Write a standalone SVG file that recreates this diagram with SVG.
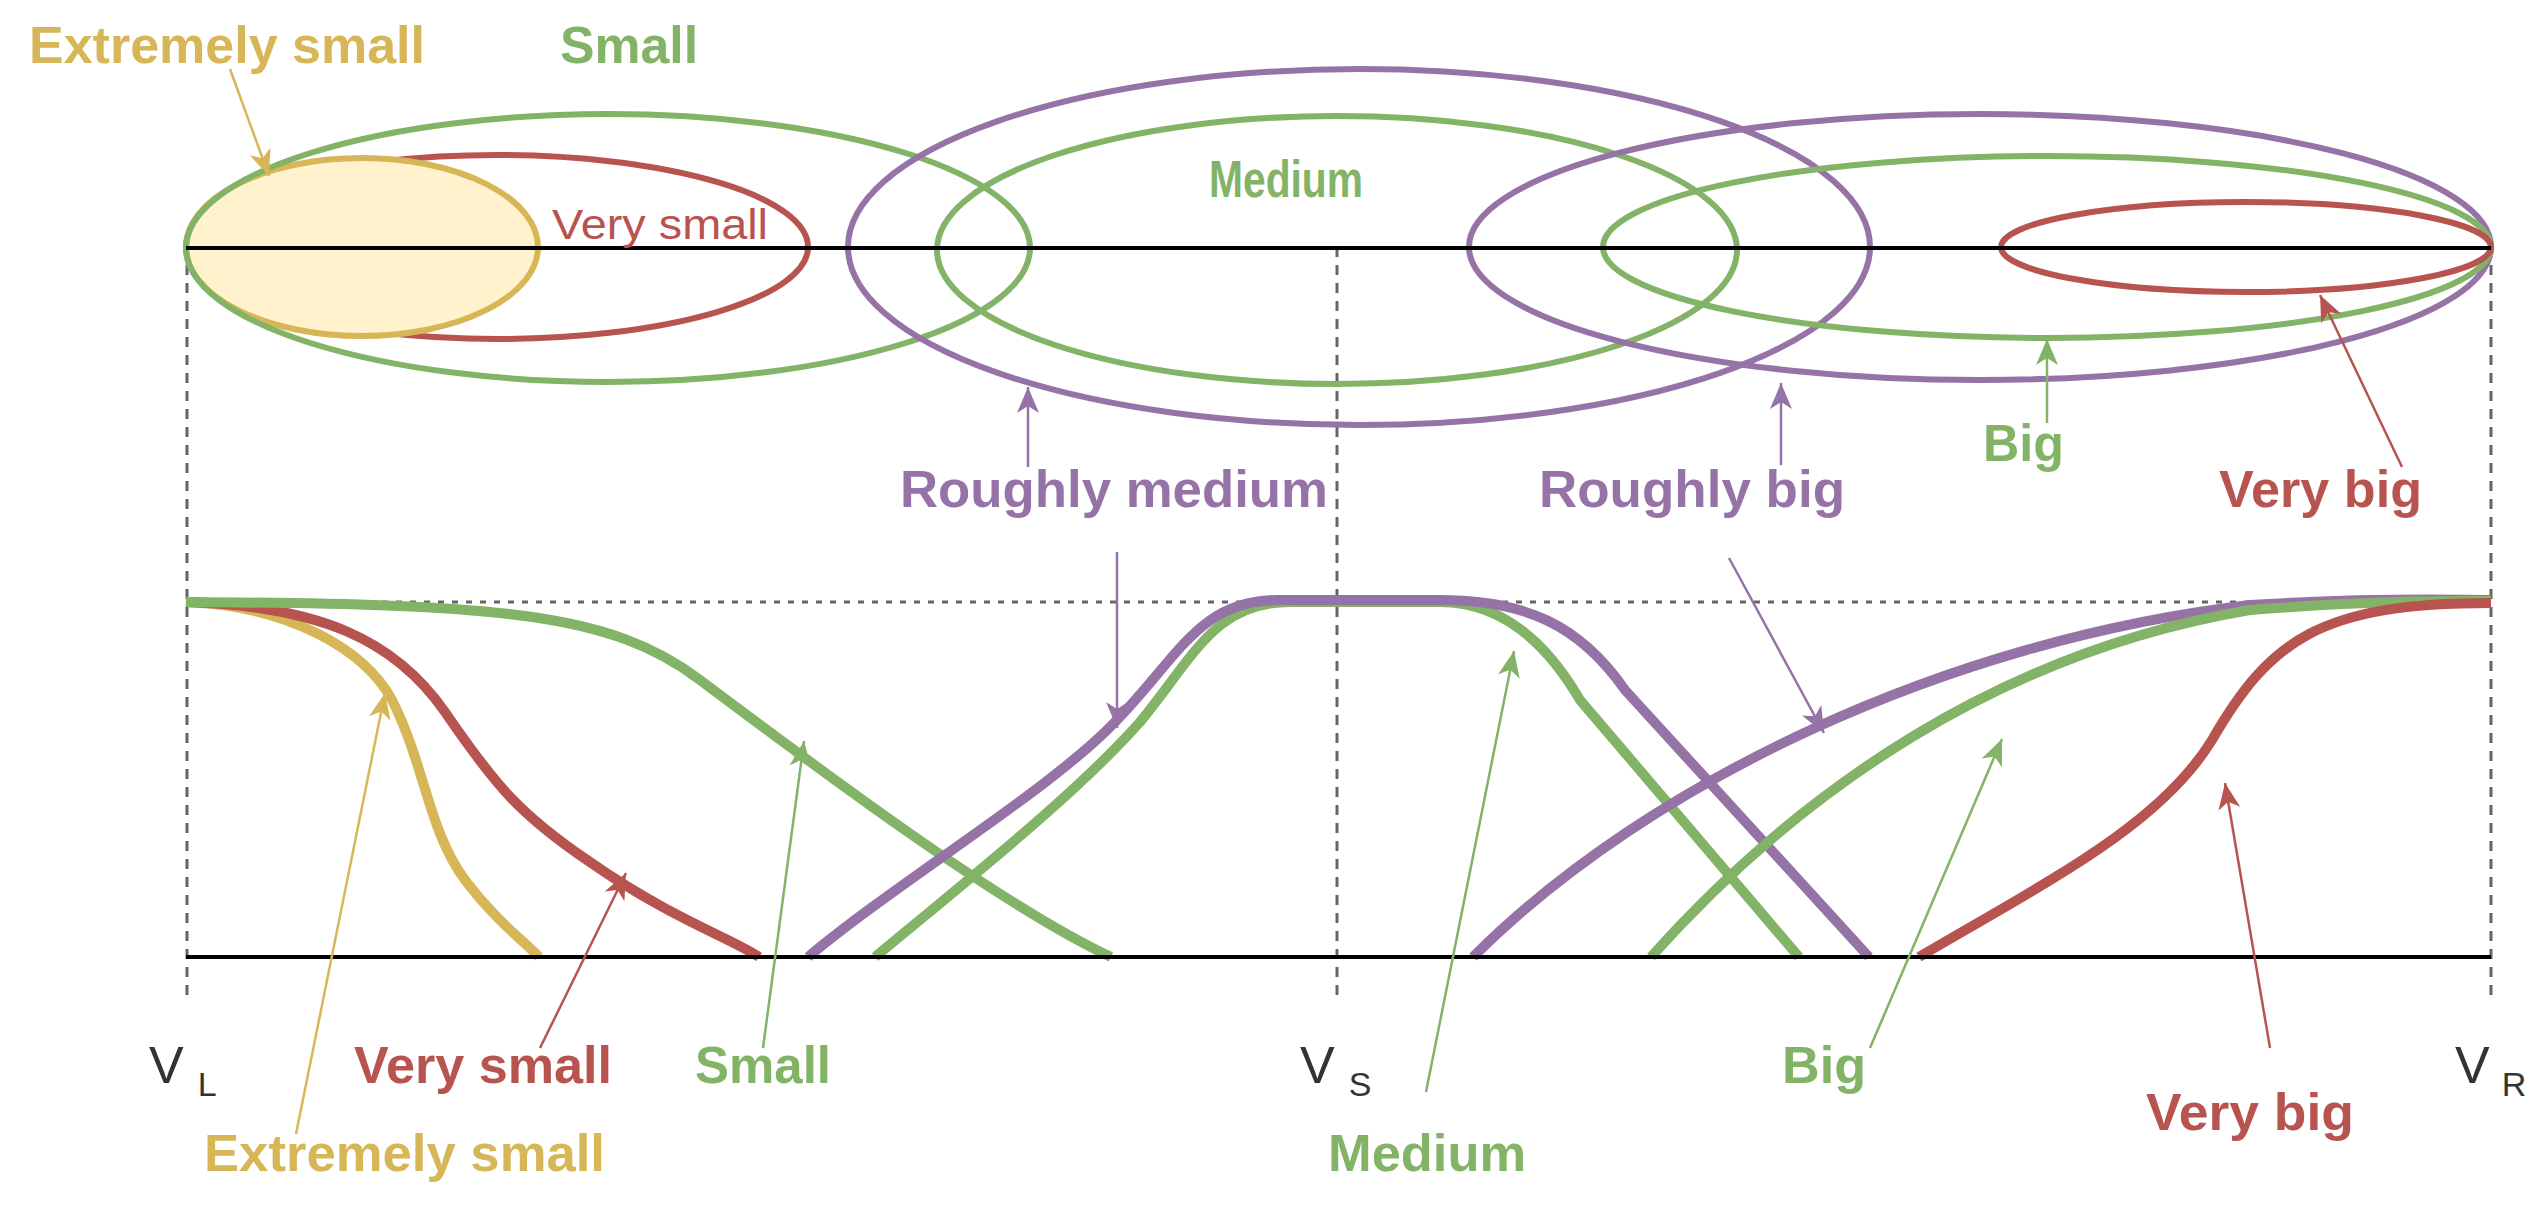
<svg xmlns="http://www.w3.org/2000/svg" width="2545" height="1208" viewBox="0 0 2545 1208">
<style>
text{font-family:"Liberation Sans Narrow","Liberation Sans",Arial,sans-serif;font-weight:bold;font-size:52px}
.y{fill:#d6b656}.r{fill:#b85450}.g{fill:#82b366}.p{fill:#9673a6}
.v{fill:#333;font-weight:normal}
.e{fill:none;stroke-width:6}
.c{fill:none;stroke-width:10;stroke-linecap:butt}
.a{fill:none;stroke-width:2.5}
.sy{stroke:#d6b656}.sr{stroke:#b85450}.sg{stroke:#82b366}.sp{stroke:#9673a6}
.d{stroke:#666;stroke-width:3;stroke-dasharray:10 8;fill:none}
</style>
<defs>
<marker id="my" markerWidth="40" markerHeight="40" refX="0" refY="0" markerUnits="userSpaceOnUse" orient="auto" overflow="visible"><path d="M0,0 L-26,-11 L-19,0 L-26,11 Z" fill="#d6b656"/></marker>
<marker id="mr" markerWidth="40" markerHeight="40" refX="0" refY="0" markerUnits="userSpaceOnUse" orient="auto" overflow="visible"><path d="M0,0 L-26,-11 L-19,0 L-26,11 Z" fill="#b85450"/></marker>
<marker id="mg" markerWidth="40" markerHeight="40" refX="0" refY="0" markerUnits="userSpaceOnUse" orient="auto" overflow="visible"><path d="M0,0 L-26,-11 L-19,0 L-26,11 Z" fill="#82b366"/></marker>
<marker id="mp" markerWidth="40" markerHeight="40" refX="0" refY="0" markerUnits="userSpaceOnUse" orient="auto" overflow="visible"><path d="M0,0 L-26,-11 L-19,0 L-26,11 Z" fill="#9673a6"/></marker>
</defs>
<rect width="2545" height="1208" fill="#fff"/>
<g id="guides">
<line class="d" x1="187" y1="247" x2="187" y2="1003"/>
<line class="d" x1="1337" y1="247" x2="1337" y2="1003"/>
<line class="d" x1="2491" y1="247" x2="2491" y2="1003"/>
<line x1="186" y1="602" x2="2491" y2="602" stroke="#666" stroke-width="3" stroke-dasharray="6 8"/>
</g>
<g id="top-sets">
<ellipse id="very-small" class="e sr" cx="497" cy="247" rx="311" ry="92"/>
<ellipse id="ext-small" cx="362" cy="247" rx="176" ry="89" fill="#fff2cc" stroke="#d6b656" stroke-width="6"/>
<ellipse id="small" class="e sg" cx="608" cy="248" rx="422" ry="134"/>
<ellipse id="roughly-medium" class="e sp" cx="1359" cy="247" rx="511" ry="178"/>
<ellipse id="medium" class="e sg" cx="1337" cy="250" rx="400" ry="134"/>
<ellipse id="roughly-big" class="e sp" cx="1980" cy="247" rx="511" ry="133"/>
<ellipse id="big" class="e sg" cx="2047" cy="247" rx="444" ry="91"/>
<ellipse id="very-big" class="e sr" cx="2246" cy="247" rx="245" ry="45"/>
<line x1="186" y1="248" x2="2491" y2="248" stroke="#000" stroke-width="4"/>
</g>
<g id="membership-curves">
<path class="c sy" d="M186,602 C290,606 365,650 392,700 C425,765 428,830 465,880 C495,920 525,942 539,957"/>
<path class="c sr" d="M186,602 C320,606 395,640 445,712 C495,785 520,815 590,862 C670,918 735,940 759,957"/>
<path class="c sg" d="M186,602 C500,604 610,612 700,680 C820,770 1000,905 1111,957"/>
<path class="c sg" d="M875,957 C980,870 1080,790 1140,722 C1195,655 1215,602 1290,602 L1440,602 C1500,602 1545,640 1580,700 L1799,957"/>
<path class="c sp" d="M808,957 C900,880 1050,790 1115,722 C1180,655 1200,600 1278,600 L1440,600 C1525,600 1580,625 1625,690 L1869,957"/>
<path class="c sp" d="M1473,957 C1650,780 1950,640 2250,605 C2380,597 2450,600 2491,600"/>
<path class="c sg" d="M1651,957 C1800,790 2000,652 2250,610 C2380,600 2450,601 2491,601"/>
<path class="c sr" d="M1919,957 C2050,880 2160,825 2212,740 C2270,640 2320,603 2491,603"/>
<line x1="186" y1="957" x2="2491" y2="957" stroke="#000" stroke-width="4"/>
</g>
<g id="connectors">
<line class="a sy" x1="230" y1="69" x2="269" y2="176" marker-end="url(#my)"/>
<line class="a sp" x1="1028" y1="467" x2="1028" y2="387" marker-end="url(#mp)"/>
<line class="a sp" x1="1781" y1="465" x2="1781" y2="383" marker-end="url(#mp)"/>
<line class="a sg" x1="2047" y1="423" x2="2047" y2="339" marker-end="url(#mg)"/>
<line class="a sr" x1="2402" y1="467" x2="2320" y2="295" marker-end="url(#mr)"/>
<line class="a sy" x1="296" y1="1134" x2="385" y2="693" marker-end="url(#my)"/>
<line class="a sr" x1="540" y1="1048" x2="626" y2="873" marker-end="url(#mr)"/>
<line class="a sg" x1="763" y1="1048" x2="804" y2="741" marker-end="url(#mg)"/>
<line class="a sp" x1="1117" y1="552" x2="1117" y2="728" marker-end="url(#mp)"/>
<line class="a sg" x1="1426" y1="1092" x2="1514" y2="651" marker-end="url(#mg)"/>
<line class="a sp" x1="1729" y1="558" x2="1824" y2="733" marker-end="url(#mp)"/>
<line class="a sg" x1="1870" y1="1048" x2="2002" y2="739" marker-end="url(#mg)"/>
<line class="a sr" x1="2270" y1="1048" x2="2225" y2="783" marker-end="url(#mr)"/>
</g>
<g id="labels">
<text class="y" x="29" y="63" textLength="396" lengthAdjust="spacingAndGlyphs">Extremely small</text>
<text class="g" x="560" y="63" textLength="138" lengthAdjust="spacingAndGlyphs">Small</text>
<text class="r" x="552" y="239" style="font-weight:normal;font-size:42px" textLength="216" lengthAdjust="spacingAndGlyphs">Very small</text>
<text class="g" x="1209" y="197" textLength="154" lengthAdjust="spacingAndGlyphs">Medium</text>
<text class="p" x="900" y="507" textLength="428" lengthAdjust="spacingAndGlyphs">Roughly medium</text>
<text class="p" x="1539" y="507" textLength="306" lengthAdjust="spacingAndGlyphs">Roughly big</text>
<text class="g" x="1983" y="461" textLength="81" lengthAdjust="spacingAndGlyphs">Big</text>
<text class="r" x="2219" y="507" textLength="203" lengthAdjust="spacingAndGlyphs">Very big</text>
<text class="v" x="149" y="1083">V<tspan font-size="34" dx="14" dy="13">L</tspan></text>
<text class="v" x="1300" y="1083">V<tspan font-size="34" dx="14" dy="13">S</tspan></text>
<text class="v" x="2455" y="1083">V<tspan font-size="34" dx="12" dy="13">R</tspan></text>
<text class="r" x="354" y="1083" textLength="258" lengthAdjust="spacingAndGlyphs">Very small</text>
<text class="g" x="695" y="1083" textLength="136" lengthAdjust="spacingAndGlyphs">Small</text>
<text class="y" x="204" y="1171" textLength="401" lengthAdjust="spacingAndGlyphs">Extremely small</text>
<text class="g" x="1328" y="1171" textLength="198" lengthAdjust="spacingAndGlyphs">Medium</text>
<text class="g" x="1782" y="1083" textLength="84" lengthAdjust="spacingAndGlyphs">Big</text>
<text class="r" x="2146" y="1130" textLength="208" lengthAdjust="spacingAndGlyphs">Very big</text>
</g>
</svg>
